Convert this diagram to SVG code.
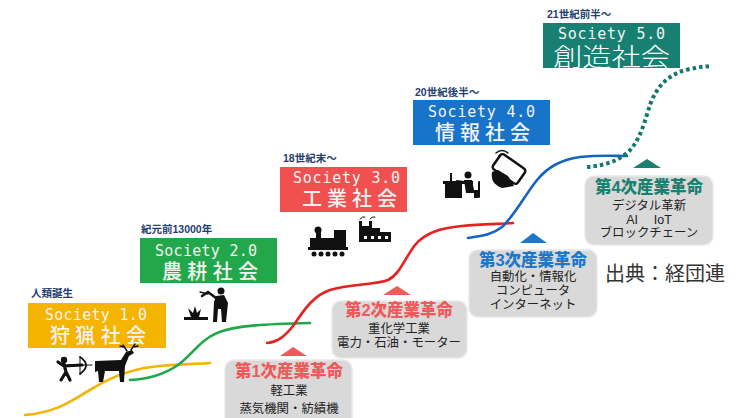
<svg xmlns="http://www.w3.org/2000/svg" width="745" height="418" viewBox="0 0 745 418">
  <style>
    .era { font-family: "Liberation Sans", "Noto Sans CJK JP", sans-serif; font-weight: 700; font-size: 10.5px; fill: #24406e; }
    .soc { font-family: "DejaVu Sans Mono", "Liberation Mono", monospace; font-size: 15px; fill: #f2f2f2; }
    .kan { font-family: "Liberation Sans", "Noto Sans CJK JP", sans-serif; font-size: 20px; font-weight: 500; fill: #f2f2f2; }
    .rev { fill: #d9d9d9; stroke: #e9e9e9; stroke-width: 1.5; }
    .tri { stroke: none; }
    .rt { font-family: "Liberation Sans", "Noto Sans CJK JP", sans-serif; font-weight: 900; font-size: 16.5px; text-anchor: middle; }
    .rl { font-family: "Liberation Sans", "Noto Sans CJK JP", sans-serif; font-size: 12.4px; fill: #222; text-anchor: middle; }
    .curve { fill: none; stroke-width: 2.6; stroke-linecap: round; }
    .ico { fill: #111; }
    .icol { fill: none; stroke: #111; stroke-linecap: round; stroke-linejoin: round; }
  </style>

  <rect width="745" height="418" fill="#ffffff"/>

  <!-- growth curves -->
  <g id="connectors">
    <path class="curve" stroke="#f5b400" d="M25,415 C60,412 75,398 95,387 C115,375 135,368 160,366 C180,364 195,364 210,363"/>
    <path class="curve" stroke="#1fa846" d="M130,380 C150,379 165,374 178,365 C192,355 200,340 217,333 C235,325 270,324 310,323"/>
    <path class="curve" stroke="#e8201e" d="M267,343 C278,342 285,336 293,326 C303,312 312,296 330,290 C350,284 375,285 388,280 C400,274 405,258 415,245 C425,233 440,228 462,226 C480,224 498,224 513,223"/>
    <path class="curve" stroke="#1565c0" d="M468,238 C480,236 492,235 502,227 C515,215 525,195 537,180 C548,167 560,160 580,157 C600,155 615,156 627,156"/>
    <path fill="none" stroke="#137a6b" stroke-width="4" stroke-dasharray="3.5 3" d="M587,167 C600,166 615,163 627,153 C640,142 645,120 650,105 C657,85 670,73 690,69 C700,67 708,66 712,66"/>
  </g>

  <!-- society stages -->
  <g id="society1">
    <text class="era" x="31" y="297">人類誕生</text>
    <rect x="28" y="303" width="138" height="45" fill="#f5b400"/>
    <text class="soc" x="45" y="320" textLength="102" lengthAdjust="spacing">Society 1.0</text>
    <text class="kan" x="50" y="343" textLength="96" lengthAdjust="spacing">狩猟社会</text>
  </g>
  <g id="society2">
    <text class="era" x="141" y="233">紀元前13000年</text>
    <rect x="140" y="238" width="137" height="45" fill="#22a84a"/>
    <text class="soc" x="155" y="256" textLength="102" lengthAdjust="spacing">Society 2.0</text>
    <text class="kan" x="162" y="279" textLength="96" lengthAdjust="spacing">農耕社会</text>
  </g>
  <g id="society3">
    <text class="era" x="283" y="162">18世紀末〜</text>
    <rect x="280" y="167" width="127" height="45" fill="#f05050"/>
    <text class="soc" x="293" y="183" textLength="107" lengthAdjust="spacing">Society 3.0</text>
    <text class="kan" x="302" y="206" font-size="19" textLength="95" lengthAdjust="spacing">工業社会</text>
  </g>
  <g id="society4">
    <text class="era" x="415" y="96">20世紀後半〜</text>
    <rect x="413" y="100" width="137" height="45" fill="#1874c8"/>
    <text class="soc" x="428" y="117" textLength="107" lengthAdjust="spacing">Society 4.0</text>
    <text class="kan" x="435" y="140" textLength="95" lengthAdjust="spacing">情報社会</text>
  </g>
  <g id="society5">
    <text class="era" x="547" y="18">21世紀前半〜</text>
    <rect x="543" y="23" width="137" height="45" fill="#178072"/>
    <text class="soc" x="558" y="39" textLength="107" lengthAdjust="spacing" fill="#ffffff">Society 5.0</text>
    <text x="553" y="66" textLength="117" lengthAdjust="spacingAndGlyphs" font-family="Liberation Sans, Noto Sans CJK JP, sans-serif" font-weight="300" font-size="25" fill="#ffffff">創造社会</text>
  </g>

  <!-- industrial revolutions -->
  <g id="rev1">
    <polygon class="tri" fill="#f05a5a" points="280,356 293,347 307,356"/>
    <rect class="rev" x="225" y="360" width="127" height="70" rx="9"/>
    <text class="rt" x="289" y="377" fill="#f05a5a">第1次産業革命</text>
    <text class="rl" x="289" y="395">軽工業</text>
    <text class="rl" x="289" y="413">蒸気機関・紡績機</text>
  </g>
  <g id="rev2">
    <polygon class="tri" fill="#f05a5a" points="383,295 397,286 411,295"/>
    <rect class="rev" x="332" y="301" width="135" height="57" rx="9"/>
    <text class="rt" x="399" y="316" fill="#f05a5a">第2次産業革命</text>
    <text class="rl" x="399" y="333">重化学工業</text>
    <text class="rl" x="399" y="347" font-size="11.5">電力・石油・モーター</text>
  </g>
  <g id="rev3">
    <polygon class="tri" fill="#1e78c8" points="520,243 533,233 547,243"/>
    <rect class="rev" x="469" y="250" width="128" height="67" rx="9"/>
    <text class="rt" x="533" y="266" fill="#1e78c8">第3次産業革命</text>
    <text class="rl" x="533" y="281">自動化・情報化</text>
    <text class="rl" x="533" y="295">コンピュータ</text>
    <text class="rl" x="533" y="309">インターネット</text>
  </g>
  <g id="rev4">
    <polygon class="tri" fill="#1a8070" points="633,168 647,159 661,168"/>
    <rect class="rev" x="585" y="176" width="128" height="69" rx="9"/>
    <text class="rt" x="649" y="193" fill="#1a8070" font-size="15.5">第4次産業革命</text>
    <text class="rl" x="649" y="210" font-size="12">デジタル革新</text>
    <text class="rl" x="649" y="224" font-size="12">AI　 IoT</text>
    <text class="rl" x="649" y="237" font-size="10.5">ブロックチェーン</text>
  </g>

  <!-- source note -->
  <text x="605" y="281" font-family="Liberation Sans, Noto Sans CJK JP, sans-serif" font-size="20" fill="#333">出典：経団連</text>

  <!-- pictograms -->
  <g id="hunter">
    <circle class="ico" cx="64" cy="360" r="3.2"/>
    <path class="icol" stroke-width="3.2" d="M64,364 L66,372 M66,372 L61,380 M66,372 L70,380 M64,366 L58,362 M64,366 L82,365"/>
    <path class="icol" stroke-width="1.8" d="M80,357 Q92,365 80,374"/>
    <path class="icol" stroke-width="1" d="M80,357 L80,374 M68,365 L92,365"/>
  </g>
  <g id="deer">
    <path class="ico" d="M95,361 L121,360 L126,352 L132,350 L134,353 L129,356 L125,366 L124,382 L120,382 L119,371 L105,371 L103,382 L99,382 L98,371 L95,372 Z"/>
    <path class="icol" stroke-width="1.4" d="M127,351 L123,345 M124,347 L120,346 M131,350 L135,344 M133,347 L138,346"/>
  </g>
  <g id="farmer">
    <circle class="ico" cx="221" cy="291" r="3.5"/>
    <path class="ico" d="M216,296 L224,295 L228,303 L226,322 L222,322 L221,309 L218,309 L217,322 L213,322 L214,302 Z"/>
    <path class="icol" stroke-width="2.5" d="M216,298 L208,292 L202,296"/>
    <path class="icol" stroke-width="1.3" d="M200,292 L208,294"/>
    <path class="ico" d="M184,320 L208,320 L208,317 L184,317 Z"/>
    <path class="ico" d="M191,317 L188,308 L193,313 L195,306 L197,313 L201,309 L199,317 Z"/>
  </g>
  <g id="train">
    <rect class="ico" x="310" y="238" width="26" height="11"/>
    <rect class="ico" x="334" y="230" width="12" height="19"/>
    <rect class="ico" x="316" y="232" width="5" height="7"/>
    <circle class="ico" cx="318" cy="230" r="3.5"/>
    <rect class="ico" x="308" y="247" width="40" height="3"/>
    <circle class="ico" cx="314" cy="254" r="2.5"/><circle class="ico" cx="321" cy="254" r="2.5"/>
    <circle class="ico" cx="328" cy="254" r="2.5"/><circle class="ico" cx="335" cy="254" r="2.5"/>
    <circle class="ico" cx="342" cy="254" r="2.5"/>
  </g>
  <g id="factory">
    <path class="ico" d="M359,242 L359,221 L362,221 L362,226 L369,226 L369,221 L372,221 L372,228 L380,228 L380,232 L391,232 L391,242 Z"/>
    <path class="icol" stroke-width="1" d="M360,219 Q362,216 365,217 M370,219 Q372,216 375,217"/>
    <rect x="364" y="236" width="3" height="3" fill="#fff"/><rect x="371" y="236" width="3" height="3" fill="#fff"/>
    <rect x="378" y="236" width="3" height="3" fill="#fff"/><rect x="385" y="236" width="3" height="3" fill="#fff"/>
  </g>
  <g id="deskworker">
    <rect class="ico" x="445" y="184" width="17" height="14"/>
    <rect class="ico" x="443" y="181" width="30" height="3"/>
    <rect class="ico" x="450" y="173" width="2" height="8"/>
    <circle class="ico" cx="468" cy="175" r="3.5"/>
    <path class="ico" d="M464,180 L472,180 L474,190 L478,190 L478,198 L474,198 L474,193 L466,193 Z"/>
    <path class="icol" stroke-width="2" d="M464,182 L457,181 M479,182 L479,197"/>
  </g>
  <g id="phone">
    <path class="icol" stroke-width="1.6" d="M496,153 Q502,148 508,153 M499,156 Q502,153 505,156"/>
    <rect x="494" y="160" width="30" height="18" rx="3" transform="rotate(35 509 169)" fill="#fff" stroke="#111" stroke-width="2.5"/>
    <path class="ico" d="M492,172 Q490,184 502,188 L514,186 L508,176 L498,170 Z"/>
  </g>
</svg>
